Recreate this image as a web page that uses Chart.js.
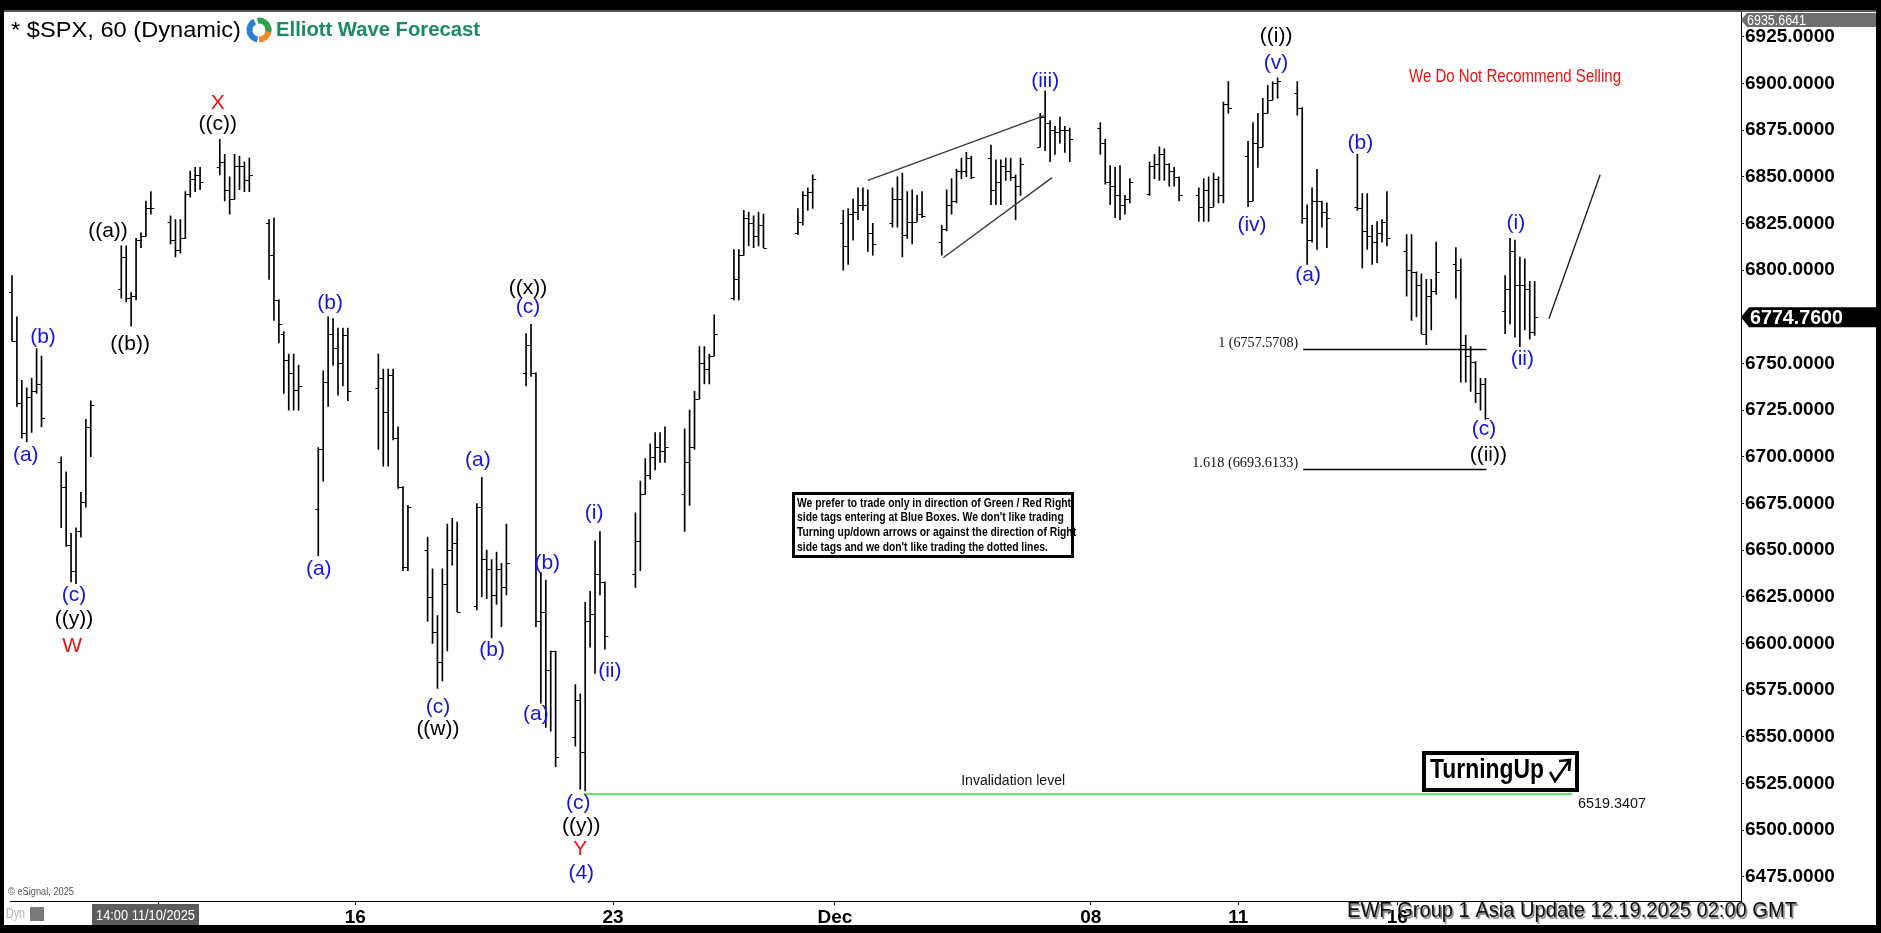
<!DOCTYPE html>
<html>
<head>
<meta charset="utf-8">
<title>$SPX, 60 (Dynamic)</title>
<script src="https://cdn.jsdelivr.net/npm/chart.js@4.4.1/dist/chart.umd.min.js"></script>
<style>
html,body{margin:0;padding:0;background:#fff;overflow:hidden}
canvas{display:block}
</style>
</head>
<body>
<canvas id="chart" width="1881" height="933"></canvas>
<script>
// ---------------- DATA ----------------
const sessions = ['2025-11-06','2025-11-07','2025-11-10','2025-11-11','2025-11-12','2025-11-13','2025-11-14',
  '2025-11-17','2025-11-18','2025-11-19','2025-11-20','2025-11-21','2025-11-24','2025-11-25','2025-11-26','2025-11-28',
  '2025-12-01','2025-12-02','2025-12-03','2025-12-04','2025-12-05','2025-12-08','2025-12-09','2025-12-10','2025-12-11',
  '2025-12-12','2025-12-15','2025-12-16','2025-12-17','2025-12-18'];
const barsPerSession = [7,7,7,7,7,7,7, 7,7,7,7,7,7,7,7,4, 7,7,7,7,7,7,7,7,7, 7,7,7,7,7];

const opens = [
  6788,6762,6729,6713,6732,6735,6739,  // 11-06
  6697,6684,6653,6639,6660,6676,6716,  // 11-07
  6790,6807,6785,6786,6816,6818,6833,  // 11-10
  6826,6816,6811,6817,6841,6849,6851,  // 11-11
  6855,6858,6843,6838,6856,6856,6848,  // 11-12
  6825,6808,6784,6766,6752,6745,6736,  // 11-13
  6672,6704,6740,6766,6758,6750,6765,  // 11-14
  6737,6742,6724,6744,6710,6684,6641,  // 11-17
  6650,6625,6606,6590,6632,6650,6654,  // 11-18
  6620,6673,6645,6640,6626,6640,6630,  // 11-19
  6745,6760,6745,6612,6617,6586,6596,  // 11-20
  6550,6570,6542,6612,6616,6637,6633,  // 11-21
  6637,6655,6680,6690,6700,6705,6703,  // 11-24
  6680,6697,6705,6731,6750,6747,6754,  // 11-25
  6785,6795,6808,6828,6825,6818,6824,  // 11-26
  6820,6826,6840,6842,                 // 11-28
  6825,6813,6830,6831,6835,6835,6820,  // 12-01
  6825,6838,6838,6819,6826,6826,6830,  // 12-02
  6815,6822,6835,6837,6853,6853,6860,  // 12-03
  6860,6843,6847,6856,6853,6850,6845,  // 12-04
  6866,6882,6879,6875,6874,6875,6875,  // 12-05
  6876,6868,6847,6845,6840,6835,6838,  // 12-08
  6841,6856,6857,6862,6857,6853,6850,  // 12-09
  6840,6834,6843,6834,6849,6840,6889,  // 12-10
  6861,6837,6868,6866,6884,6891,6900,  // 12-11
  6895,6887,6828,6816,6837,6837,6831,  // 12-12
  6834,6833,6821,6818,6815,6820,6826,  // 12-15
  6810,6800,6799,6792,6766,6786,6789,  // 12-16
  6803,6800,6760,6754,6751,6734,6739,  // 12-17
  6778,6790,6810,6792,6792,6790,6767   // 12-18
];
const highs = [
  6797,6775,6741,6737,6742,6758,6754,
  6700,6692,6659,6662,6681,6720,6730,
  6813,6813,6788,6817,6820,6837,6842,
  6829,6827,6827,6842,6853,6855,6855,
  6870,6862,6850,6862,6861,6858,6860,
  6827,6828,6784,6767,6755,6755,6749,
  6705,6746,6775,6774,6769,6769,6769,
  6755,6747,6747,6747,6716,6684,6674,
  6657,6640,6615,6640,6664,6667,6665,
  6675,6689,6650,6645,6649,6643,6664,
  6766,6771,6745,6638,6634,6596,6596,
  6578,6573,6622,6628,6655,6660,6633,
  6670,6687,6699,6707,6713,6713,6716,
  6715,6725,6735,6759,6759,6755,6776,
  6811,6811,6832,6831,6829,6831,6830,
  6833,6842,6844,6851,
  6832,6833,6838,6844,6844,6843,6825,
  6844,6850,6852,6842,6843,6840,6842,
  6824,6843,6849,6854,6860,6863,6861,
  6867,6859,6859,6860,6860,6851,6860,
  6884,6896,6880,6877,6882,6877,6876,
  6879,6870,6856,6855,6856,6840,6849,
  6858,6862,6866,6865,6857,6855,6850,
  6844,6849,6850,6852,6850,6890,6901,
  6869,6879,6884,6892,6899,6901,6903,
  6901,6887,6835,6844,6854,6837,6836,
  6862,6841,6841,6824,6826,6827,6842,
  6819,6819,6799,6798,6795,6795,6815,
  6812,6806,6765,6759,6751,6742,6742,
  6797,6817,6816,6807,6806,6794,6794
];
const lows = [
  6762,6727,6710,6708,6713,6734,6716,
  6662,6652,6633,6632,6657,6673,6700,
  6785,6783,6770,6784,6812,6818,6830,
  6814,6807,6809,6817,6839,6842,6843,
  6851,6837,6830,6838,6843,6842,6842,
  6795,6773,6761,6734,6725,6725,6725,
  6647,6687,6727,6749,6733,6738,6730,
  6704,6695,6695,6709,6683,6639,6639,
  6612,6600,6576,6580,6596,6642,6617,
  6618,6625,6624,6603,6621,6609,6626,
  6738,6743,6609,6568,6555,6553,6534,
  6545,6522,6521,6598,6584,6626,6597,
  6630,6639,6680,6688,6693,6697,6697,
  6660,6674,6704,6731,6739,6739,6754,
  6784,6784,6808,6813,6812,6813,6812,
  6819,6824,6832,6833,
  6800,6803,6816,6827,6832,6810,6808,
  6823,6823,6807,6817,6814,6826,6828,
  6808,6821,6830,6836,6849,6850,6849,
  6835,6835,6835,6848,6848,6827,6840,
  6866,6864,6858,6862,6868,6863,6858,
  6862,6846,6835,6828,6827,6830,6836,
  6840,6849,6848,6848,6845,6845,6837,
  6826,6826,6826,6834,6836,6836,6884,
  6834,6837,6855,6866,6884,6891,6892,
  6883,6825,6803,6815,6811,6823,6812,
  6832,6801,6811,6803,6804,6815,6813,
  6786,6773,6775,6766,6760,6768,6787,
  6785,6740,6740,6735,6729,6725,6720,
  6766,6771,6764,6759,6768,6763,6765
];
const closes = [
  6762,6729,6713,6732,6735,6739,6721,
  6684,6653,6639,6660,6676,6716,6728,
  6807,6785,6786,6816,6818,6833,6833,
  6816,6811,6817,6841,6849,6851,6847,
  6858,6843,6838,6856,6856,6848,6851,
  6808,6784,6771,6752,6745,6736,6738,
  6704,6740,6766,6758,6750,6765,6735,
  6742,6724,6744,6710,6684,6641,6673,
  6625,6606,6590,6632,6650,6654,6617,
  6673,6645,6640,6626,6640,6630,6643,
  6760,6745,6612,6617,6586,6596,6539,
  6570,6542,6612,6616,6637,6633,6604,
  6655,6680,6690,6700,6705,6703,6705,
  6697,6705,6731,6750,6747,6754,6766,
  6795,6808,6828,6825,6818,6824,6812,
  6826,6840,6842,6849,
  6813,6830,6831,6835,6835,6820,6814,
  6838,6838,6819,6826,6826,6830,6829,
  6822,6835,6837,6853,6853,6860,6850,
  6843,6847,6856,6853,6850,6845,6857,
  6882,6879,6875,6874,6875,6875,6870,
  6868,6847,6845,6840,6835,6838,6847,
  6856,6857,6862,6857,6853,6850,6840,
  6834,6843,6834,6849,6840,6889,6887,
  6837,6868,6866,6884,6891,6900,6901,
  6887,6828,6816,6837,6837,6831,6828,
  6833,6821,6818,6815,6820,6826,6817,
  6800,6799,6792,6766,6786,6789,6799,
  6800,6760,6754,6751,6734,6739,6721,
  6790,6810,6792,6792,6790,6767,6775
];

const yTickValues = [6475,6500,6525,6550,6575,6600,6625,6650,6675,6700,6725,6750,6775,6800,6825,6850,6875,6900,6925];
const xTickSessions = ['2025-11-11','2025-11-17','2025-11-24','2025-12-01','2025-12-08','2025-12-11','2025-12-16'];
const xTickLabels   = ['','16','23','Dec','08','11','16'];

const lastPrice = 6774.76;
const topScaleValue = 6935.6641;
const fibRatios = ['1','1.618'];
const fibValues = [6757.5708, 6693.6133];
const invalidationValue = 6519.3407;

// wave labels: text, degree colour, session, bar offset within session, price
const waveLabels = [
  ['(a)','blue','2025-11-06',2.8,6701], ['(b)','blue','2025-11-06',6.3,6764],
  ['(c)','blue','2025-11-07',2.6,6626], ['((y))','black','2025-11-07',2.6,6613], ['W','red','2025-11-07',2.2,6598.5],
  ['((a))','black','2025-11-10',-2.7,6821], ['((b))','black','2025-11-10',1.8,6760.5],
  ['X','red','2025-11-12',-0.4,6889.6], ['((c))','black','2025-11-12',-0.4,6878],
  ['(a)','blue','2025-11-14',0.1,6640], ['(b)','blue','2025-11-14',2.4,6782.5],
  ['(c)','blue','2025-11-18',2.1,6566], ['((w))','black','2025-11-18',2.1,6554],
  ['(a)','blue','2025-11-19',0.2,6698], ['(b)','blue','2025-11-19',3.1,6596.6],
  ['((x))','black','2025-11-20',0.4,6790.5], ['(c)','blue','2025-11-20',0.4,6780],
  ['(b)','blue','2025-11-20',4.3,6643], ['(a)','blue','2025-11-20',2.0,6562.3],
  ['(i)','blue','2025-11-21',3.8,6670], ['(ii)','blue','2025-11-21',7.0,6585.4],
  ['(c)','blue','2025-11-21',0.6,6514.6], ['((y))','black','2025-11-21',1.2,6502],
  ['Y','red','2025-11-21',1.0,6490], ['(4)','blue','2025-11-21',1.2,6477],
  ['(iii)','blue','2025-12-05',1.0,6901.4],
  ['((i))','black','2025-12-11',5.7,6925], ['(v)','blue','2025-12-11',5.7,6911],
  ['(iv)','blue','2025-12-11',0.8,6824],
  ['(a)','blue','2025-12-12',2.2,6797], ['(b)','blue','2025-12-15',0.6,6868],
  ['(c)','blue','2025-12-17',5.7,6715], ['((ii))','black','2025-12-17',6.6,6701],
  ['(i)','blue','2025-12-18',2.2,6825], ['(ii)','blue','2025-12-18',3.5,6752]
];
// straight lines: [session, offset, price] -> [session, offset, price]
const wedgeUpper = [['2025-12-01',5.0,6848.0],['2025-12-05',0.8,6882.7]];
const wedgeLower = [['2025-12-03',0.3,6806.6],['2025-12-05',2.4,6849.5]];
const projection = [['2025-12-18',8.9,6773.9],['2025-12-18',19.3,6851.0]];
const fibSpan = [['2025-12-12',1.2],['2025-12-17',6.2]];
const invalidationSpan = [['2025-11-21',1.8],['2025-12-18',13.6]];

// ---------------- LAYOUT (slot axis) ----------------
const SESSION_GAP = 3, WEEKEND_GAP = 2.2, HOLIDAY_GAP = 3;
const X_TICK_SHIFT = [-2.35,-4.7,-4.55,-1.7,-1.95,-2.0,-1.9];   // where the date separators sit in the gaps
const sessionStart = [];
(function(){
  let s = 0;
  sessions.forEach((d,i)=>{
    if(i>0){
      const prev = new Date(sessions[i-1]+'T00:00:00Z'), cur = new Date(d+'T00:00:00Z');
      const gapDays = Math.round((cur-prev)/864e5);
      let missing = 0, weekend = false;
      for(let k=1;k<gapDays;k++){
        const wd = new Date(prev.getTime()+k*864e5).getUTCDay();
        if(wd===0||wd===6) weekend = true; else missing++;
      }
      s += barsPerSession[i-1] + SESSION_GAP + (weekend?WEEKEND_GAP:0) + missing*HOLIDAY_GAP;
    }
    sessionStart.push(s);
  });
})();
const startOf = d => sessionStart[sessions.indexOf(d)];
const barX = [];
sessions.forEach((d,i)=>{ for(let j=0;j<barsPerSession[i];j++) barX.push(sessionStart[i]+j); });
const xTickValues = xTickSessions.map((d,i) => startOf(d) + X_TICK_SHIFT[i]);

const X_MIN = -0.4, X_MAX = 351.1, Y_MIN = 6462.1, Y_MAX = 6938;
const COLORS = {blue:'#1414e0', black:'#000000', red:'#ee1111'};
const SANS = '"Liberation Sans", Arial, sans-serif';
const NARROW = '"Liberation Sans Narrow", "Arial Narrow", "Liberation Sans", sans-serif';
const SERIF = '"Liberation Serif", "Times New Roman", serif';

function fitText(ctx, text, x, y, font, width, align){
  ctx.save();
  ctx.font = font;
  const w = ctx.measureText(text).width;
  const f = width / w;
  let x0 = x;
  if(align==='center') x0 = x - width/2;
  else if(align==='right') x0 = x - width;
  ctx.translate(x0, y);
  ctx.scale(f, 1);
  ctx.textAlign = 'left';
  ctx.fillText(text, 0, 0);
  ctx.restore();
}

const overlay = {
  id:'overlay',
  beforeDraw(chart){
    const ctx = chart.ctx;
    ctx.save(); ctx.fillStyle = '#fff'; ctx.fillRect(0,0,chart.width,chart.height); ctx.restore();
  },
  afterDatasetsDraw(chart){
    const ctx = chart.ctx, xs = chart.scales.x, ys = chart.scales.y;
    const X = v => xs.getPixelForValue(v), Y = v => ys.getPixelForValue(v);
    ctx.save();
    // open / close ticks
    ctx.strokeStyle = '#000'; ctx.lineWidth = 1;
    ctx.beginPath();
    barX.forEach((x,i)=>{
      const px = X(x);
      const po = Math.round(Y(opens[i]))+0.5, pc = Math.round(Y(closes[i]))+0.5;
      ctx.moveTo(px-3, po); ctx.lineTo(px, po);
      ctx.moveTo(px, pc); ctx.lineTo(px+3.5, pc);
    });
    ctx.stroke();

    // wedge lines
    ctx.strokeStyle = '#3a3a3a'; ctx.lineWidth = 1.4;
    [wedgeUpper, wedgeLower].forEach(l=>{
      ctx.beginPath();
      ctx.moveTo(X(startOf(l[0][0])+l[0][1]), Y(l[0][2]));
      ctx.lineTo(X(startOf(l[1][0])+l[1][1]), Y(l[1][2]));
      ctx.stroke();
    });
    // projection
    ctx.strokeStyle = '#222'; ctx.lineWidth = 1.4;
    ctx.beginPath();
    ctx.moveTo(X(startOf(projection[0][0])+projection[0][1]), Y(projection[0][2]));
    ctx.lineTo(X(startOf(projection[1][0])+projection[1][1]), Y(projection[1][2]));
    ctx.stroke();

    // fib lines
    const fx0 = X(startOf(fibSpan[0][0])+fibSpan[0][1]), fx1 = X(startOf(fibSpan[1][0])+fibSpan[1][1]);
    ctx.strokeStyle = '#000'; ctx.lineWidth = 1.5;
    fibValues.forEach((v,i)=>{
      const py = Math.round(Y(v))+0.5;
      ctx.beginPath(); ctx.moveTo(fx0, py); ctx.lineTo(fx1, py); ctx.stroke();
      ctx.fillStyle = '#111'; ctx.textBaseline = 'middle';
      fitText(ctx, fibRatios[i]+' ('+v.toFixed(4)+')', fx0-5, py-6, '14px '+SERIF, i===0?80:106, 'right');
    });

    // invalidation line
    const ix0 = X(startOf(invalidationSpan[0][0])+invalidationSpan[0][1]);
    const ix1 = X(startOf(invalidationSpan[1][0])+invalidationSpan[1][1]);
    const iy = Y(invalidationValue);
    ctx.strokeStyle = '#6fe06f'; ctx.lineWidth = 2.2;
    ctx.beginPath(); ctx.moveTo(ix0, iy); ctx.lineTo(ix1, iy); ctx.stroke();
    ctx.fillStyle = '#111'; ctx.textBaseline = 'middle';
    fitText(ctx, 'Invalidation level', (ix0+ix1)/2 - 65, iy-13, '14px '+NARROW, 104, 'center');
    fitText(ctx, invalidationValue.toFixed(4), ix1+6, iy+10, '15px '+NARROW, 68, 'left');

    // wave labels
    ctx.font = '21px '+SANS; ctx.textAlign = 'center'; ctx.textBaseline = 'middle';
    waveLabels.forEach(l=>{
      ctx.fillStyle = COLORS[l[1]];
      ctx.fillText(l[0], X(startOf(l[2])+l[3]), Y(l[4]));
    });
    ctx.restore();
  },
  afterDraw(chart){
    const ctx = chart.ctx, ys = chart.scales.y, ca = chart.chartArea;
    const W = chart.width, H = chart.height;
    ctx.save();
    ctx.textBaseline = 'middle';

    // red note
    ctx.fillStyle = '#ee1111';
    fitText(ctx, 'We Do Not Recommend Selling', 1515, 77, '19px '+NARROW, 212, 'center');

    // notice box
    ctx.fillStyle = '#fff'; ctx.fillRect(792,492,282,66);
    ctx.strokeStyle = '#000'; ctx.lineWidth = 3; ctx.strokeRect(793.5,493.5,279,63);
    ctx.fillStyle = '#000';
    const notice = ['We prefer to trade only in direction of Green / Red Right',
                    "side tags entering at Blue Boxes. We don't like trading",
                    'Turning up/down arrows or against the direction of Right',
                    "side tags and we don't like trading the dotted lines."];
    ctx.font = 'bold 13px '+NARROW;
    const nf = 274 / ctx.measureText(notice[0]).width;
    notice.forEach((t,i)=>{
      ctx.save(); ctx.translate(797, 503 + i*14.7); ctx.scale(nf,1); ctx.textAlign='left'; ctx.fillText(t,0,0); ctx.restore();
    });

    // Turning Up box
    ctx.fillStyle = '#fff'; ctx.fillRect(1422,751,157,41);
    ctx.strokeStyle = '#000'; ctx.lineWidth = 4; ctx.strokeRect(1424,753,153,37);
    ctx.fillStyle = '#000';
    fitText(ctx, 'TurningUp', 1430, 771, 'bold 27px '+NARROW, 114, 'left');
    ctx.strokeStyle = '#000'; ctx.lineWidth = 2.6;
    ctx.beginPath(); ctx.moveTo(1550, 772); ctx.lineTo(1555, 781); ctx.lineTo(1569, 761); ctx.stroke();
    ctx.beginPath(); ctx.moveTo(1559, 761); ctx.lineTo(1570, 760); ctx.lineTo(1569, 771); ctx.stroke();

    // title + logo
    ctx.fillStyle = '#000';
    fitText(ctx, '* $SPX, 60 (Dynamic)', 11, 31, '22px '+SANS, 230, 'left');
    ctx.fillStyle = '#fff'; ctx.beginPath(); ctx.arc(259,30,14,0,Math.PI*2); ctx.fill();
    ctx.lineWidth = 6;
    [['#2f7fd0',0.55,1.35],['#2fa14f',1.45,2.15],['#f0892a',0.05,0.5],['#2fa14f',-0.1,0.02]].forEach(a=>{
      ctx.strokeStyle = a[0]; ctx.beginPath(); ctx.arc(259,30,9.5,a[1]*Math.PI,a[2]*Math.PI); ctx.stroke();
    });
    ctx.fillStyle = '#1b8a5e';
    fitText(ctx, 'Elliott Wave Forecast', 276, 30, 'bold 20px '+SANS, 204, 'left');

    // last-price and top-value tags on the price axis
    const ly = ys.getPixelForValue(lastPrice);
    ctx.fillStyle = '#000';
    ctx.beginPath(); ctx.moveTo(ca.right, ly); ctx.lineTo(ca.right+8, ly-10); ctx.lineTo(W, ly-10); ctx.lineTo(W, ly+10); ctx.lineTo(ca.right+8, ly+10); ctx.closePath(); ctx.fill();
    ctx.fillStyle = '#fff';
    fitText(ctx, lastPrice.toFixed(4), 1750, ly+1, 'bold 20px '+SANS, 93, 'left');
    ctx.fillStyle = '#6e6e6e';
    ctx.beginPath(); ctx.moveTo(ca.right, 20); ctx.lineTo(ca.right+6, 13); ctx.lineTo(W, 13); ctx.lineTo(W, 27); ctx.lineTo(ca.right+6, 27); ctx.closePath(); ctx.fill();
    ctx.fillStyle = '#fff';
    fitText(ctx, topScaleValue.toFixed(4), 1747, 20.5, '15px '+NARROW, 59, 'left');

    // bottom strip items
    ctx.fillStyle = '#5c5c5c'; ctx.fillRect(92,904,107,22);
    ctx.fillStyle = '#fff';
    fitText(ctx, '14:00 11/10/2025', 96, 915.5, '15px '+NARROW, 99, 'left');
    ctx.fillStyle = '#b0b0b0';
    fitText(ctx, 'Dyn', 6, 914, '14px '+NARROW, 19, 'left');
    ctx.fillStyle = '#7a7a7a'; ctx.fillRect(30,907,14,14);
    ctx.fillStyle = '#555';
    fitText(ctx, '\u00A9 eSignal, 2025', 8, 892, '11px '+NARROW, 66, 'left');

    // EWF footer text with shadow
    ctx.save();
    ctx.shadowColor = 'rgba(110,110,110,0.9)'; ctx.shadowOffsetX = 1.5; ctx.shadowOffsetY = 1.5; ctx.shadowBlur = 1;
    ctx.fillStyle = '#111';
    fitText(ctx, 'EWF Group 1 Asia Update 12.19.2025 02:00 GMT', 1347, 911, '22px '+SANS, 450, 'left');
    ctx.restore();

    // outer frame
    ctx.fillStyle = '#000';
    ctx.fillRect(0,0,W,10); ctx.fillRect(0,0,4,H); ctx.fillRect(W-5,0,5,H); ctx.fillRect(0,H-8,W,8);
    ctx.fillStyle = '#555'; ctx.fillRect(4,10,W-9,2);
    ctx.restore();
  }
};

Chart.defaults.font.family = SANS;
new Chart(document.getElementById('chart'), {
  type:'bar',
  data:{
    datasets:[{
      label:'$SPX 60',
      data: barX.map((x,i)=>({x:x, y:[lows[i], highs[i]]})),
      backgroundColor:'#000',
      borderWidth:0,
      barThickness:1,
      grouped:false
    }]
  },
  options:{
    responsive:false,
    animation:false,
    events:[],
    layout:{padding:{left:10, top:12, right:0, bottom:0}},
    plugins:{legend:{display:false}, tooltip:{enabled:false}, title:{display:false}},
    scales:{
      x:{
        type:'linear', min:X_MIN, max:X_MAX, offset:false, position:'bottom',
        afterBuildTicks: sc => { sc.ticks = xTickValues.map(v=>({value:v})); },
        afterFit: sc => { sc.height = 32; },
        ticks:{ autoSkip:false, maxRotation:0, minRotation:0, padding:1, color:'#000',
                font:{size:19, weight:'bold'},
                callback: v => { const k = xTickValues.indexOf(v); return k>=0 ? xTickLabels[k] : ''; } },
        grid:{ display:true, drawOnChartArea:false, drawTicks:true, tickLength:4, color:'#000', offset:false },
        border:{ display:true, color:'#000', width:1 }
      },
      y:{
        type:'linear', position:'right', min:Y_MIN, max:Y_MAX,
        afterBuildTicks: sc => { sc.ticks = yTickValues.map(v=>({value:v})); },
        afterFit: sc => { sc.width = 140; },
        ticks:{ padding:1, color:'#000', font:{size:19, weight:'bold'}, callback: v => Number(v).toFixed(4) },
        grid:{ display:true, drawOnChartArea:false, drawTicks:true, tickLength:3, color:'#000' },
        border:{ display:true, color:'#000', width:1 }
      }
    }
  },
  plugins:[overlay]
});
</script>
</body>
</html>
